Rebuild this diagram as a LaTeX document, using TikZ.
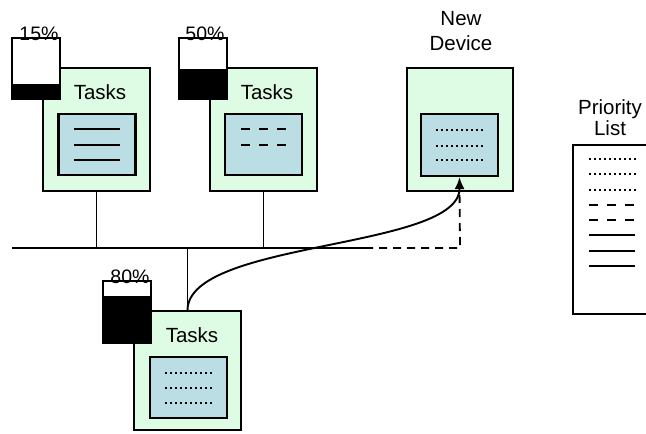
\documentclass[tikz,border=0pt]{standalone}
\usepackage{fontspec}
\setmainfont{Liberation Sans}
\usepackage{xcolor}
\usepackage{tikz}
\usetikzlibrary{arrows.meta,positioning,calc}
\definecolor{devgreen}{RGB}{222,252,228}
\definecolor{scrblue}{RGB}{186,222,228}

\begin{document}
\begin{tikzpicture}[x=1pt,y=-1pt,>=Latex,
  dev/.style={draw,line width=1.6pt,fill=devgreen,inner sep=0pt,minimum width=107pt,minimum height=123pt},
  scr/.style={draw,line width=2.2pt,fill=scrblue,inner sep=0pt,minimum width=77pt,minimum height=61pt},
  bat/.style={draw,line width=1.6pt,fill=white,inner sep=0pt,minimum width=48pt,minimum height=61pt},
  lbl/.style={font=\fontsize{20.5}{25}\selectfont,align=center,inner sep=0pt},
  pct/.style={font=\fontsize{19.5}{20}\selectfont,anchor=base,inner sep=0pt},
  wire/.style={line width=1.8pt},
  solidln/.style={line width=1.8pt},
  dashln/.style={line width=1.8pt,dash pattern=on 9pt off 9pt},
  dotln/.style={line width=1.9pt,dash pattern=on 2pt off 3pt}]
\clip (0,0) rectangle (646,434);

% device with 15%
\node[dev] (dev1) at (96.5,129.5) {};
\node[scr] (scr1) at (97,144.5) {};
\node[lbl] (tsk1) at (100,92) {Tasks};
\foreach \yy in {129,145,160} \draw[solidln] (74,\yy) -- (120,\yy);
\node[bat] (bat1) at (36,68.5) {};
\fill (bat1.south west) rectangle ++(48,-16);
\node[pct] (pc1) at (39,40) {15\%};

% device with 50%
\node[dev] (dev2) at (263.5,129.5) {};
\node[scr] (scr2) at (263.5,144.5) {};
\node[lbl] (tsk2) at (267,92) {Tasks};
\foreach \yy in {129,145} \draw[dashln] (241,\yy) -- (286,\yy);
\node[bat] (bat2) at (203,68.5) {};
\fill (bat2.south west) rectangle ++(48,-31);
\node[pct] (pc2) at (205,40) {50\%};

% device with 80%
\node[dev,minimum height=119pt] (dev3) at (187.5,370.5) {};
\node[scr] (scr3) at (188.5,387.5) {};
\node[lbl] (tsk3) at (192,335) {Tasks};
\foreach \yy in {373,388,403} \draw[dotln] (165,\yy) -- (213,\yy);
\node[bat,minimum height=62pt] (bat3) at (127,312) {};
\fill (bat3.south west) rectangle ++(48,-48);
\node[pct] (pc3) at (130,283) {80\%};

% new device
\node[dev,minimum width=106pt] (newdev) at (460,129.5) {};
\node[scr,minimum height=62pt] (scr4) at (459.5,145) {};
\foreach \yy in {130,146,160} \draw[dotln] (436,\yy) -- (484,\yy);
\node[lbl] (newlbl) at (461,31) {New\\Device};

% priority list
\node[draw,line width=1.6pt,inner sep=0pt,minimum width=110pt,minimum height=169pt,anchor=north west] (plist) at (572,144) {};
\node[lbl,font=\fontsize{20.5}{21}\selectfont] (plbl) at (610,118) {Priority\\List};
\foreach \yy in {159,174,190} \draw[dotln] (589,\yy) -- (637,\yy);
\foreach \yy in {205,220} \draw[dashln] (589,\yy) -- (635,\yy);
\foreach \yy in {235,251,266} \draw[solidln] (589,\yy) -- (635,\yy);

% network
\coordinate (busL) at (12,248);
\coordinate (busM) at (365,248);
\coordinate (busR) at (460,248);
\draw[wire] (busL) -- (busM);
\draw[wire] (dev1.south) -- (dev1.south |- busL);
\draw[wire] (dev2.south) -- (dev2.south |- busL);
\draw[wire] (dev3.north) -- (dev3.north |- busL);
\draw[line width=1.8pt,dash pattern=on 8pt off 6pt] (busM) -- (busR) -- ($(scr4.south)+(0,8)$);
\draw[line width=1.9pt,-{Latex[length=12pt,width=10pt]}] (dev3.north) .. controls (188,240) and (460,250) .. (scr4.south);
\end{tikzpicture}
\end{document}
